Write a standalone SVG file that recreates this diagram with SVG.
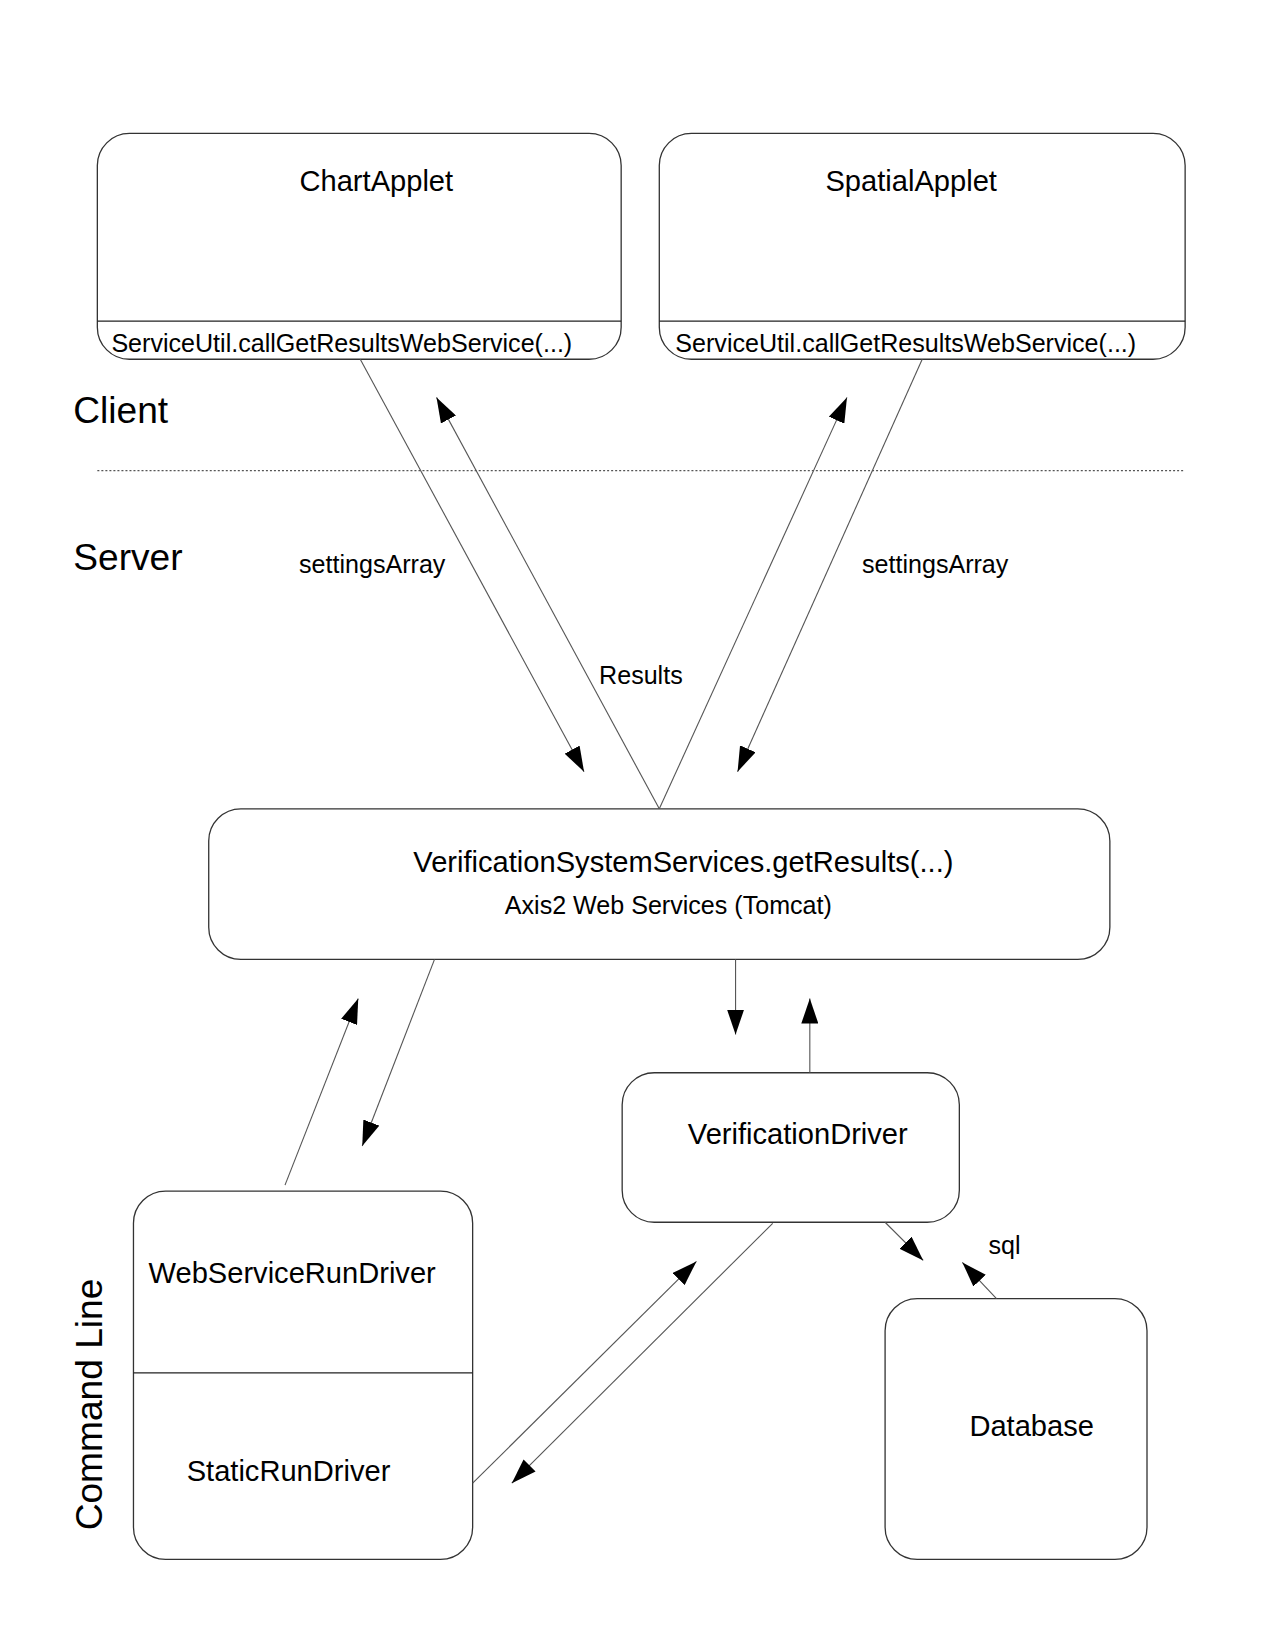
<svg xmlns="http://www.w3.org/2000/svg" width="1275" height="1650" viewBox="0 0 1275 1650">
<style>
text{font-family:"Liberation Sans",Arial,sans-serif;fill:#000}
.box{fill:#fff;stroke:#333;stroke-width:1.3}
.div{stroke:#222;stroke-width:1.3}
.t28{font-size:29px}
.t24{font-size:25px}
.t37{font-size:37px}
.c{stroke:#555;stroke-width:1.1;fill:none;marker-end:url(#ah)}
</style>
<defs>
<marker id="ah" markerUnits="userSpaceOnUse" markerWidth="25" markerHeight="17" refX="25" refY="8.5" orient="auto" viewBox="0 0 25 17">
<path d="M0,0 L25,8.5 L0,17 z" fill="#000"/>
</marker>
</defs>
<rect width="1275" height="1650" fill="#fff"/>
<g transform="scale(1.0035)">
<g id="labels">
<text class="t37" x="73" y="422">Client</text>
<text class="t37" x="73" y="568">Server</text>
<text class="t37" transform="translate(102,1525) rotate(-90)" x="0" y="0">Command Line</text>
<line x1="97" y1="469" x2="1181" y2="469" stroke="#555" stroke-width="1.2" stroke-dasharray="2,2"/>
</g>
<g id="ChartApplet">
<rect class="box" x="97" y="133" width="522" height="225" rx="32" ry="32"/>
<line class="div" x1="97" y1="320" x2="619" y2="320"/>
<text class="t28" x="375" y="190" text-anchor="middle">ChartApplet</text>
<text class="t24" x="111" y="351">ServiceUtil.callGetResultsWebService(...)</text>
</g>
<g id="SpatialApplet">
<rect class="box" x="657" y="133" width="524" height="225" rx="32" ry="32"/>
<line class="div" x1="657" y1="320" x2="1181" y2="320"/>
<text class="t28" x="908" y="190" text-anchor="middle">SpatialApplet</text>
<text class="t24" x="673" y="351">ServiceUtil.callGetResultsWebService(...)</text>
</g>
<g id="VerificationSystemServices">
<rect class="box" x="208" y="806" width="898" height="150" rx="32" ry="32"/>
<text class="t28" x="681" y="869" text-anchor="middle">VerificationSystemServices.getResults(...)</text>
<text class="t24" x="666" y="911" text-anchor="middle">Axis2 Web Services (Tomcat)</text>
</g>
<g id="VerificationDriver">
<rect class="box" x="620" y="1069" width="336" height="149" rx="32" ry="32"/>
<text class="t28" x="795" y="1140" text-anchor="middle">VerificationDriver</text>
</g>
<g id="CommandLineDrivers">
<rect class="box" x="133" y="1187" width="338" height="367" rx="32" ry="32"/>
<line class="div" x1="133" y1="1368" x2="471" y2="1368"/>
<text class="t28" x="148" y="1279">WebServiceRunDriver</text>
<text class="t28" x="186" y="1476">StaticRunDriver</text>
</g>
<g id="Database">
<rect class="box" x="882" y="1294" width="261" height="260" rx="32" ry="32"/>
<text class="t28" x="966" y="1431">Database</text>
</g>
<g id="connectors">
<line class="c" x1="359" y1="358" x2="582" y2="769"/>
<line class="c" x1="657" y1="806" x2="435" y2="396"/>
<line class="c" x1="657" y1="806" x2="844" y2="396"/>
<line class="c" x1="919" y1="358" x2="735" y2="769"/>
<line class="c" x1="433" y1="956" x2="361" y2="1142"/>
<line class="c" x1="284" y1="1181" x2="357" y2="995"/>
<line class="c" x1="733" y1="956" x2="733" y2="1031"/>
<line class="c" x1="807" y1="1069" x2="807" y2="995"/>
<line class="c" x1="882" y1="1218" x2="920" y2="1256"/>
<line class="c" x1="993" y1="1294" x2="959" y2="1258"/>
<line class="c" x1="471" y1="1478" x2="694" y2="1257"/>
<line class="c" x1="770" y1="1219" x2="510" y2="1478"/>
<text class="t24" x="298" y="571">settingsArray</text>
<text class="t24" x="859" y="571">settingsArray</text>
<text class="t24" x="597" y="682">Results</text>
<text class="t24" x="985" y="1250">sql</text>
</g>
</g>
</svg>
